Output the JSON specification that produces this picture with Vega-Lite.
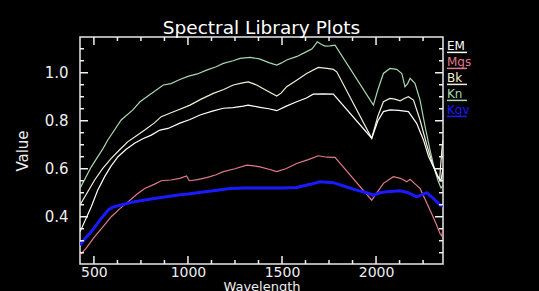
{
  "$schema": "https://vega.github.io/schema/vega-lite/v6.json",
  "width": 363,
  "height": 227,
  "autosize": "none",
  "padding": {"left": 80, "top": 37, "right": 96, "bottom": 27},
  "background": "black",
  "title": {"text": "Spectral Library Plots", "color": "white", "font": "DejaVu Sans", "fontSize": 18.5, "fontWeight": "normal", "offset": 0, "anchor": "middle"},
  "datasets": {
    "xt": [{"t":500,"m":1},{"t":625,"m":0},{"t":750,"m":0},{"t":875,"m":0},{"t":1000,"m":1},{"t":1125,"m":0},{"t":1250,"m":0},{"t":1375,"m":0},{"t":1500,"m":1},{"t":1625,"m":0},{"t":1750,"m":0},{"t":1875,"m":0},{"t":2000,"m":1},{"t":2125,"m":0},{"t":2250,"m":0}],
    "yt": [{"t":0.25,"m":0},{"t":0.3,"m":0},{"t":0.35,"m":0},{"t":0.4,"m":1},{"t":0.45,"m":0},{"t":0.5,"m":0},{"t":0.55,"m":0},{"t":0.6,"m":1},{"t":0.65,"m":0},{"t":0.7,"m":0},{"t":0.75,"m":0},{"t":0.8,"m":1},{"t":0.85,"m":0},{"t":0.9,"m":0},{"t":0.95,"m":0},{"t":1.0,"m":1},{"t":1.05,"m":0},{"t":1.1,"m":0}],
    "spec": [
      {"s":"Kn","w":426,"v":0.518},{"s":"Kn","w":486,"v":0.608},{"s":"Kn","w":549,"v":0.685},{"s":"Kn","w":574,"v":0.72},{"s":"Kn","w":645,"v":0.803},{"s":"Kn","w":707,"v":0.845},{"s":"Kn","w":745,"v":0.879},{"s":"Kn","w":800,"v":0.91},{"s":"Kn","w":869,"v":0.949},{"s":"Kn","w":910,"v":0.955},{"s":"Kn","w":957,"v":0.972},{"s":"Kn","w":1000,"v":0.985},{"s":"Kn","w":1050,"v":0.995},{"s":"Kn","w":1099,"v":1.011},{"s":"Kn","w":1150,"v":1.025},{"s":"Kn","w":1188,"v":1.039},{"s":"Kn","w":1240,"v":1.05},{"s":"Kn","w":1277,"v":1.06},{"s":"Kn","w":1330,"v":1.064},{"s":"Kn","w":1380,"v":1.058},{"s":"Kn","w":1430,"v":1.042},{"s":"Kn","w":1472,"v":1.032},{"s":"Kn","w":1495,"v":1.04},{"s":"Kn","w":1525,"v":1.053},{"s":"Kn","w":1580,"v":1.068},{"s":"Kn","w":1631,"v":1.088},{"s":"Kn","w":1660,"v":1.1},{"s":"Kn","w":1688,"v":1.129},{"s":"Kn","w":1710,"v":1.118},{"s":"Kn","w":1729,"v":1.111},{"s":"Kn","w":1755,"v":1.112},{"s":"Kn","w":1782,"v":1.115},{"s":"Kn","w":1986,"v":0.865},{"s":"Kn","w":2010,"v":0.93},{"s":"Kn","w":2039,"v":0.997},{"s":"Kn","w":2074,"v":1.018},{"s":"Kn","w":2110,"v":1.014},{"s":"Kn","w":2137,"v":0.997},{"s":"Kn","w":2154,"v":0.942},{"s":"Kn","w":2168,"v":0.955},{"s":"Kn","w":2181,"v":0.977},{"s":"Kn","w":2207,"v":0.956},{"s":"Kn","w":2234,"v":0.886},{"s":"Kn","w":2261,"v":0.775},{"s":"Kn","w":2287,"v":0.678},{"s":"Kn","w":2310,"v":0.6},{"s":"Kn","w":2330,"v":0.55},{"s":"Kn","w":2345,"v":0.52},{"s":"Kn","w":2356,"v":0.53},
      {"s":"Bk","w":426,"v":0.449},{"s":"Bk","w":504,"v":0.553},{"s":"Bk","w":546,"v":0.6},{"s":"Bk","w":592,"v":0.643},{"s":"Bk","w":638,"v":0.68},{"s":"Bk","w":681,"v":0.713},{"s":"Bk","w":730,"v":0.74},{"s":"Bk","w":770,"v":0.761},{"s":"Bk","w":820,"v":0.79},{"s":"Bk","w":858,"v":0.817},{"s":"Bk","w":900,"v":0.83},{"s":"Bk","w":947,"v":0.845},{"s":"Bk","w":1011,"v":0.865},{"s":"Bk","w":1070,"v":0.89},{"s":"Bk","w":1135,"v":0.914},{"s":"Bk","w":1190,"v":0.93},{"s":"Bk","w":1241,"v":0.949},{"s":"Bk","w":1290,"v":0.958},{"s":"Bk","w":1321,"v":0.962},{"s":"Bk","w":1365,"v":0.949},{"s":"Bk","w":1420,"v":0.925},{"s":"Bk","w":1472,"v":0.903},{"s":"Bk","w":1495,"v":0.915},{"s":"Bk","w":1525,"v":0.942},{"s":"Bk","w":1580,"v":0.97},{"s":"Bk","w":1631,"v":0.997},{"s":"Bk","w":1693,"v":1.022},{"s":"Bk","w":1740,"v":1.018},{"s":"Bk","w":1773,"v":1.014},{"s":"Bk","w":1791,"v":1.004},{"s":"Bk","w":1977,"v":0.727},{"s":"Bk","w":2010,"v":0.82},{"s":"Bk","w":2039,"v":0.879},{"s":"Bk","w":2074,"v":0.893},{"s":"Bk","w":2100,"v":0.89},{"s":"Bk","w":2128,"v":0.883},{"s":"Bk","w":2150,"v":0.893},{"s":"Bk","w":2172,"v":0.9},{"s":"Bk","w":2199,"v":0.886},{"s":"Bk","w":2234,"v":0.803},{"s":"Bk","w":2270,"v":0.699},{"s":"Bk","w":2300,"v":0.62},{"s":"Bk","w":2325,"v":0.575},{"s":"Bk","w":2338,"v":0.555},{"s":"Bk","w":2350,"v":0.68},{"s":"Bk","w":2356,"v":0.72},
      {"s":"EM","w":426,"v":0.337},{"s":"EM","w":486,"v":0.442},{"s":"EM","w":520,"v":0.51},{"s":"EM","w":557,"v":0.567},{"s":"EM","w":590,"v":0.61},{"s":"EM","w":628,"v":0.65},{"s":"EM","w":670,"v":0.68},{"s":"EM","w":716,"v":0.706},{"s":"EM","w":760,"v":0.725},{"s":"EM","w":805,"v":0.74},{"s":"EM","w":851,"v":0.761},{"s":"EM","w":894,"v":0.768},{"s":"EM","w":957,"v":0.79},{"s":"EM","w":1011,"v":0.805},{"s":"EM","w":1064,"v":0.824},{"s":"EM","w":1130,"v":0.84},{"s":"EM","w":1188,"v":0.852},{"s":"EM","w":1240,"v":0.855},{"s":"EM","w":1294,"v":0.861},{"s":"EM","w":1320,"v":0.865},{"s":"EM","w":1383,"v":0.856},{"s":"EM","w":1430,"v":0.85},{"s":"EM","w":1472,"v":0.842},{"s":"EM","w":1520,"v":0.86},{"s":"EM","w":1578,"v":0.879},{"s":"EM","w":1630,"v":0.895},{"s":"EM","w":1666,"v":0.911},{"s":"EM","w":1720,"v":0.912},{"s":"EM","w":1773,"v":0.911},{"s":"EM","w":1977,"v":0.727},{"s":"EM","w":2010,"v":0.8},{"s":"EM","w":2039,"v":0.838},{"s":"EM","w":2074,"v":0.845},{"s":"EM","w":2120,"v":0.843},{"s":"EM","w":2172,"v":0.838},{"s":"EM","w":2216,"v":0.789},{"s":"EM","w":2252,"v":0.72},{"s":"EM","w":2280,"v":0.65},{"s":"EM","w":2310,"v":0.6},{"s":"EM","w":2330,"v":0.565},{"s":"EM","w":2345,"v":0.55},{"s":"EM","w":2356,"v":0.6},
      {"s":"Mgs","w":426,"v":0.24},{"s":"Mgs","w":460,"v":0.27},{"s":"Mgs","w":504,"v":0.317},{"s":"Mgs","w":550,"v":0.36},{"s":"Mgs","w":592,"v":0.4},{"s":"Mgs","w":640,"v":0.435},{"s":"Mgs","w":681,"v":0.462},{"s":"Mgs","w":730,"v":0.495},{"s":"Mgs","w":770,"v":0.518},{"s":"Mgs","w":820,"v":0.535},{"s":"Mgs","w":858,"v":0.55},{"s":"Mgs","w":910,"v":0.553},{"s":"Mgs","w":957,"v":0.56},{"s":"Mgs","w":993,"v":0.57},{"s":"Mgs","w":1005,"v":0.552},{"s":"Mgs","w":1011,"v":0.55},{"s":"Mgs","w":1050,"v":0.555},{"s":"Mgs","w":1099,"v":0.563},{"s":"Mgs","w":1150,"v":0.575},{"s":"Mgs","w":1188,"v":0.588},{"s":"Mgs","w":1250,"v":0.6},{"s":"Mgs","w":1312,"v":0.615},{"s":"Mgs","w":1350,"v":0.612},{"s":"Mgs","w":1383,"v":0.608},{"s":"Mgs","w":1430,"v":0.598},{"s":"Mgs","w":1472,"v":0.588},{"s":"Mgs","w":1520,"v":0.6},{"s":"Mgs","w":1578,"v":0.622},{"s":"Mgs","w":1640,"v":0.638},{"s":"Mgs","w":1693,"v":0.654},{"s":"Mgs","w":1740,"v":0.648},{"s":"Mgs","w":1782,"v":0.647},{"s":"Mgs","w":1977,"v":0.469},{"s":"Mgs","w":2039,"v":0.539},{"s":"Mgs","w":2092,"v":0.567},{"s":"Mgs","w":2130,"v":0.56},{"s":"Mgs","w":2163,"v":0.546},{"s":"Mgs","w":2181,"v":0.556},{"s":"Mgs","w":2210,"v":0.535},{"s":"Mgs","w":2234,"v":0.518},{"s":"Mgs","w":2287,"v":0.428},{"s":"Mgs","w":2320,"v":0.37},{"s":"Mgs","w":2340,"v":0.33},{"s":"Mgs","w":2350,"v":0.32},{"s":"Mgs","w":2356,"v":0.35},
      {"s":"Kgv","w":426,"v":0.282},{"s":"Kgv","w":461,"v":0.317},{"s":"Kgv","w":486,"v":0.337},{"s":"Kgv","w":532,"v":0.386},{"s":"Kgv","w":576,"v":0.428},{"s":"Kgv","w":600,"v":0.44},{"s":"Kgv","w":645,"v":0.449},{"s":"Kgv","w":700,"v":0.46},{"s":"Kgv","w":770,"v":0.47},{"s":"Kgv","w":858,"v":0.48},{"s":"Kgv","w":957,"v":0.492},{"s":"Kgv","w":1000,"v":0.495},{"s":"Kgv","w":1050,"v":0.5},{"s":"Kgv","w":1135,"v":0.508},{"s":"Kgv","w":1223,"v":0.518},{"s":"Kgv","w":1300,"v":0.52},{"s":"Kgv","w":1400,"v":0.52},{"s":"Kgv","w":1500,"v":0.52},{"s":"Kgv","w":1578,"v":0.522},{"s":"Kgv","w":1650,"v":0.535},{"s":"Kgv","w":1702,"v":0.546},{"s":"Kgv","w":1773,"v":0.542},{"s":"Kgv","w":1840,"v":0.525},{"s":"Kgv","w":1897,"v":0.511},{"s":"Kgv","w":1950,"v":0.5},{"s":"Kgv","w":1986,"v":0.49},{"s":"Kgv","w":2020,"v":0.5},{"s":"Kgv","w":2057,"v":0.504},{"s":"Kgv","w":2128,"v":0.508},{"s":"Kgv","w":2170,"v":0.5},{"s":"Kgv","w":2216,"v":0.483},{"s":"Kgv","w":2245,"v":0.492},{"s":"Kgv","w":2270,"v":0.5},{"s":"Kgv","w":2300,"v":0.48},{"s":"Kgv","w":2340,"v":0.449},{"s":"Kgv","w":2356,"v":0.445}
    ]
  },
  "layer": [
    {
      "data": {"name": "spec"},
      "mark": {"type": "line", "clip": true},
      "encoding": {
        "x": {"field": "w", "type": "quantitative", "scale": {"domain": [426, 2356], "nice": false, "zero": false},
          "axis": {"orient": "bottom", "title": "Wavelength", "values": [500,1000,1500,2000], "format": "d",
            "ticks": false, "domain": false, "grid": false,
            "labelPadding": 1, "labelFontSize": 14, "titlePadding": 1, "titleFontSize": 13}},
        "y": {"field": "v", "type": "quantitative", "scale": {"domain": [0.203, 1.149], "nice": false, "zero": false},
          "axis": {"orient": "left", "title": "Value", "values": [0.4,0.6,0.8,1.0], "format": ".1f",
            "ticks": false, "domain": false, "grid": false,
            "labelPadding": 12, "titlePadding": 14}},
        "color": {"field": "s", "type": "nominal",
          "scale": {"domain": ["EM","Mgs","Bk","Kn","Kgv"], "range": ["#ffffff","#e07a8a","#f2efd6","#a8d8b0","#1a1aff"]},
          "legend": {"title": null, "orient": "right", "offset": -3, "padding": 3, "labelFont": "DejaVu Sans", "labelFontSize": 12, "labelColor": "white",
            "symbolType": "M -1 3.2 L 9 3.2", "symbolSize": 16, "symbolStrokeWidth": 1.5, "symbolFillColor": "transparent", "labelOffset": -8, "rowPadding": 0,
            "encode": {"labels": {"update": {"fill": {"scale": "color", "field": "value"}}}}}},
        "strokeWidth": {"condition": {"test": "datum.s === 'Kgv'", "value": 3}, "value": 1.2}
      }
    },
    {
      "data": {"name": "xt"},
      "mark": {"type": "tick", "orient": "vertical", "clip": true, "color": "#f0f0f0", "thickness": 1.5, "opacity": 1},
      "encoding": {
        "x": {"field": "t", "type": "quantitative"},
        "y": {"datum": 0.203, "type": "quantitative"},
        "size": {"condition": {"test": "datum.m === 1", "value": 16}, "value": 8}
      }
    },
    {
      "data": {"name": "xt"},
      "mark": {"type": "tick", "orient": "vertical", "clip": true, "color": "#f0f0f0", "thickness": 1.5, "opacity": 1},
      "encoding": {
        "x": {"field": "t", "type": "quantitative"},
        "y": {"datum": 1.149, "type": "quantitative"},
        "size": {"condition": {"test": "datum.m === 1", "value": 16}, "value": 8}
      }
    },
    {
      "data": {"name": "yt"},
      "mark": {"type": "tick", "orient": "horizontal", "clip": true, "color": "#f0f0f0", "thickness": 1.5, "opacity": 1},
      "encoding": {
        "y": {"field": "t", "type": "quantitative"},
        "x": {"datum": 426, "type": "quantitative"},
        "size": {"condition": {"test": "datum.m === 1", "value": 16}, "value": 8}
      }
    },
    {
      "data": {"name": "yt"},
      "mark": {"type": "tick", "orient": "horizontal", "clip": true, "color": "#f0f0f0", "thickness": 1.5, "opacity": 1},
      "encoding": {
        "y": {"field": "t", "type": "quantitative"},
        "x": {"datum": 2356, "type": "quantitative"},
        "size": {"condition": {"test": "datum.m === 1", "value": 16}, "value": 8}
      }
    }
  ],
  "config": {
    "view": {"stroke": "#e8e8e8", "strokeWidth": 1.5},
    "axis": {"labelColor": "#eeeeee", "labelFont": "DejaVu Sans", "labelFontSize": 15, "labelFlush": false, "labelOverlap": false,
      "titleColor": "#eeeeee", "titleFont": "DejaVu Sans", "titleFontSize": 15, "titleFontWeight": "normal"}
  }
}
